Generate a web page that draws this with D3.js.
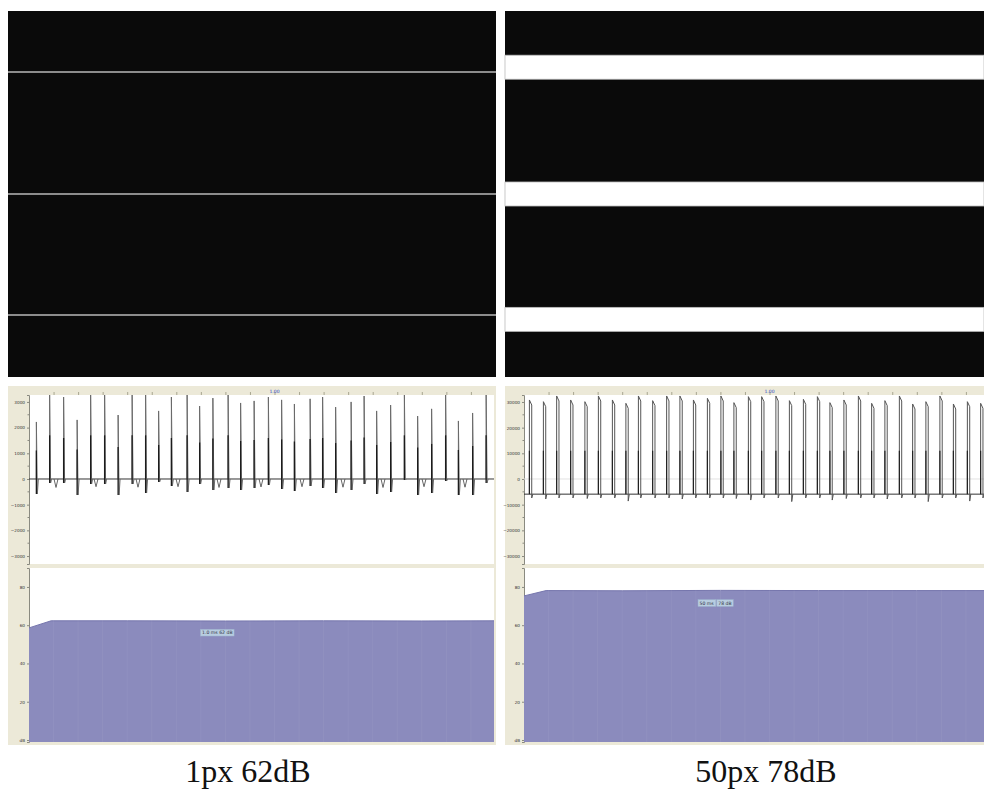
<!DOCTYPE html>
<html>
<head>
<meta charset="utf-8">
<script src="https://cdn.jsdelivr.net/npm/d3@7"></script>
<style>
  body { margin: 0; background: #fff; }
  svg { display: block; }
</style>
</head>
<body>
<div id="chart"></div>
<script>
// ---- data ----
// stimulus pictures (source pixels, 762 px tall)
const leftLines = [127, 381, 633];                       // 1px white lines
const rightGaps = [[92, 142], [356, 406], [617, 667]];   // 50px white bands

// left recording (time in s, amplitude)
const leftSpikeT = [0.030, 0.084, 0.141, 0.196, 0.251, 0.308, 0.363, 0.420, 0.475, 0.528,
  0.580, 0.644, 0.695, 0.749, 0.811, 0.862, 0.917, 0.975, 1.029, 1.081, 1.145, 1.196,
  1.249, 1.312, 1.365, 1.416, 1.473, 1.529, 1.583, 1.640, 1.697, 1.749, 1.807, 1.862];
const leftPeaks = [2220, 3400, 3190, 2300, 3400, 3400, 2490, 3400, 3400, 2650, 3190, 3400,
  2840, 3150, 3400, 2960, 3040, 3190, 3080, 2920, 3120, 3190, 2800, 3000, 3230, 2650,
  2880, 3400, 2450, 2730, 3400, 2260, 2570, 3400];
const leftTroughs = [-584, -156, -156, -623, -195, -195, -623, -195, -545, -117, -273, -506,
  -195, -429, -351, -429, -351, -234, -390, -468, -273, -351, -545, -429, -195, -584,
  -506, -39, -623, -545, -78, -623, -623, -156];
const leftVT = [0.110, 0.273, 0.444, 0.607, 0.774, 0.945, 1.112, 1.279, 1.442, 1.609, 1.776];
const leftVDepth = [-330, -300, -320, -300, -330, -310, -300, -320, -330, -300, -320];

// right recording
const rightSpikeT = [0.022, 0.079, 0.133, 0.190, 0.248, 0.303, 0.360, 0.415, 0.466, 0.524,
  0.581, 0.635, 0.690, 0.747, 0.802, 0.855, 0.914, 0.968, 1.026, 1.081, 1.138, 1.195,
  1.246, 1.303, 1.362, 1.416, 1.470, 1.529, 1.583, 1.637, 1.694, 1.749, 1.806, 1.860];
const rightPeaks = [30780, 30120, 32340, 30780, 30120, 32340, 30780, 29480, 32340, 30520,
  32340, 32340, 30780, 31430, 32340, 29740, 32080, 32080, 32340, 30520, 31040, 32080,
  29740, 30780, 32340, 29480, 30520, 32340, 29220, 30120, 32340, 29220, 30120, 29480];
const rightTroughs = [-7400, -7800, -7400, -7400, -7600, -7400, -7400, -8600, -7400, -7400,
  -7400, -7800, -7400, -7400, -7400, -7600, -8200, -7400, -7400, -8800, -7400, -7400,
  -8200, -7600, -7400, -7400, -7800, -7400, -7400, -8800, -7400, -7400, -8600, -7400];
const rightBase = -5900;

// level traces (dB)
const levelT = [0, 0.09, 0.4, 0.8, 1.2, 1.6, 1.9];
const leftDb = [58.6, 62.3, 62.3, 62.2, 62.3, 62.2, 62.3];
const rightDb = [75.3, 78.1, 78.0, 78.2, 78.1, 78.1, 78.1];

const timeTicks = d3.range(1, 19).map(d => d / 10);
const leftAmpTicks = [-3000, -2000, -1000, 0, 1000, 2000, 3000];
const rightAmpTicks = [-30000, -20000, -10000, 0, 10000, 20000, 30000];
const dbTicks = [20, 40, 60, 80];
const captions = ["1px 62dB", "50px 78dB"];
const leftTag = ["1.0 ms  62 dB"];
const rightTag = ["50 ms", "78 dB"];

// ---- drawing ----
const width = 984, height = 794;
const beige = "#ece9d8";

const svg = d3.select("#chart").append("svg")
  .attr("width", width)
  .attr("height", height);
const defs = svg.append("defs");

const stimY = d3.scaleLinear().domain([0, 762]).range([11, 377]);

// left stimulus
svg.append("rect").attr("x", 8).attr("y", stimY(0)).attr("width", 488)
  .attr("height", stimY(762) - stimY(0)).attr("fill", "#0a0a0a");
svg.selectAll(".lline").data(leftLines).enter().append("line")
  .attr("x1", 8).attr("x2", 496)
  .attr("y1", d => stimY(d)).attr("y2", d => stimY(d))
  .attr("stroke", "#b8b8b8").attr("stroke-width", 1.6);

// right stimulus
svg.append("rect").attr("x", 505).attr("y", stimY(0)).attr("width", 479)
  .attr("height", stimY(762) - stimY(0)).attr("fill", "#0a0a0a");
svg.selectAll(".rgap").data(rightGaps).enter().append("rect")
  .attr("x", 505).attr("width", 479)
  .attr("y", d => stimY(d[0])).attr("height", d => stimY(d[1]) - stimY(d[0]))
  .attr("fill", "#fff").attr("stroke", "#bbb").attr("stroke-width", 0.8);

function drawColumn(c) {
  const g = svg.append("g");
  // frame
  g.append("rect").attr("x", c.x0).attr("y", 386).attr("width", c.x1 - c.x0)
    .attr("height", 359).attr("fill", beige);

  const x = d3.scaleLinear().domain([0, (c.px1 - c.px0) / 245.5]).range([c.px0, c.px1]);
  const yW = d3.scaleLinear().domain(c.ampDomain).range([564, 395]);
  const yL = d3.scaleLinear().domain([-1.05, 89.9]).range([742, 568]);

  // plot backgrounds
  g.append("rect").attr("x", c.px0).attr("y", 395).attr("width", c.px1 - c.px0)
    .attr("height", 169).attr("fill", "#fff");
  g.append("rect").attr("x", c.px0).attr("y", 568).attr("width", c.px1 - c.px0)
    .attr("height", 174).attr("fill", "#fff");

  const clipW = "clipW" + c.id, clipL = "clipL" + c.id;
  defs.append("clipPath").attr("id", clipW).append("rect")
    .attr("x", c.px0).attr("y", 395).attr("width", c.px1 - c.px0).attr("height", 169);
  defs.append("clipPath").attr("id", clipL).append("rect")
    .attr("x", c.px0).attr("y", 568).attr("width", c.px1 - c.px0).attr("height", 174);

  // top time strip
  const ax = g.append("g").attr("transform", "translate(0,395)")
    .call(d3.axisTop(x).tickValues(timeTicks).tickSize(3).tickFormat(""));
  ax.select(".domain").remove();
  ax.selectAll("line").attr("stroke", "#a8a690");
  g.append("text").attr("x", x(1.0)).attr("y", 392.5).attr("text-anchor", "middle")
    .attr("font-family", "DejaVu Sans").attr("font-size", 4.5).attr("fill", "#2a3fc0")
    .text("1.00");

  // amplitude axis
  const ay = g.append("g").attr("transform", `translate(${c.px0},0)`)
    .call(d3.axisLeft(yW).tickValues(c.ampTicks).tickSize(2).tickPadding(2)
      .tickFormat(d3.format("d")));
  ay.select(".domain").attr("stroke", "#8a8a80");
  ay.selectAll("line").attr("stroke", "#8a8a80");
  ay.selectAll("text").attr("font-family", "DejaVu Sans").attr("font-size", 4.2).attr("fill", "#333");
  const minor = d3.pairs(c.ampTicks).map(p => (p[0] + p[1]) / 2);
  g.selectAll(".minor" + c.id).data(minor).enter().append("line")
    .attr("x1", c.px0 - 1.5).attr("x2", c.px0)
    .attr("y1", d => yW(d)).attr("y2", d => yW(d)).attr("stroke", "#8a8a80");

  const wave = g.append("g").attr("clip-path", `url(#${clipW})`);
  c.drawWave(wave, x, yW);

  // level axis
  const al = g.append("g").attr("transform", `translate(${c.px0},0)`)
    .call(d3.axisLeft(yL).tickValues([0].concat(dbTicks)).tickSize(2).tickPadding(2)
      .tickFormat(d => d === 0 ? "dB" : d));
  al.select(".domain").attr("stroke", "#8a8a80");
  al.selectAll("line").attr("stroke", "#8a8a80");
  al.selectAll("text").attr("font-family", "DejaVu Sans").attr("font-size", 4.2).attr("fill", "#333");

  const lvl = g.append("g").attr("clip-path", `url(#${clipL})`);
  const pts = levelT.map((t, i) => [t, c.db[i]]);
  lvl.append("path").datum(pts)
    .attr("d", d3.area().x(d => x(d[0])).y0(yL(-1.05)).y1(d => yL(d[1])))
    .attr("fill", "#8b8bbd");
  lvl.append("path").datum(pts)
    .attr("d", d3.line().x(d => x(d[0])).y(d => yL(d[1])))
    .attr("fill", "none").attr("stroke", "#7676ad").attr("stroke-width", 1);
  lvl.selectAll(".grid").data(timeTicks).enter().append("line")
    .attr("x1", d => x(d)).attr("x2", d => x(d)).attr("y1", 568).attr("y2", 742)
    .attr("stroke", "#fff").attr("stroke-opacity", 0.05);

  // value tag, one box per part
  let cx = x(c.tagT);
  const ty = yL(c.tagDb);
  c.tag.forEach(part => {
    const tg = g.append("g");
    const box = tg.append("rect");
    const tag = tg.append("text").attr("x", cx).attr("y", ty)
      .attr("font-family", "DejaVu Sans").attr("font-size", 4.6).attr("fill", "#334")
      .text(part);
    const bb = tag.node().getBBox();
    box.attr("x", bb.x - 1.5).attr("y", bb.y - 0.8)
      .attr("width", bb.width + 3).attr("height", bb.height + 1.6)
      .attr("fill", "#b8cde0").attr("stroke", "#9fb8d0").attr("stroke-width", 0.5);
    cx += bb.width + 4;
  });

  // caption
  svg.append("text").attr("x", c.capX).attr("y", 782).attr("text-anchor", "middle")
    .attr("font-family", "Liberation Serif").attr("font-size", 32).attr("fill", "#111")
    .text(c.caption);
}

drawColumn({
  id: "L", x0: 8, x1: 496, px0: 29, px1: 494,
  ampDomain: [-3310, 3270], ampTicks: leftAmpTicks, db: leftDb,
  tag: leftTag, tagT: 0.705, tagDb: 55.3, caption: captions[0], capX: 248,
  drawWave(g, x, y) {
    g.append("line").attr("x1", x.range()[0]).attr("x2", x.range()[1])
      .attr("y1", y(0)).attr("y2", y(0)).attr("stroke", "#333").attr("stroke-width", 1);
    const spike = d3.line().x(d => x(d[0])).y(d => y(d[1]));
    leftSpikeT.forEach((t, i) => {
      g.append("path")
        .attr("d", spike([[t, 0], [t, leftPeaks[i]], [t + 0.004, leftTroughs[i]], [t + 0.008, 0]]))
        .attr("fill", "none").attr("stroke", "#6a6a6a").attr("stroke-width", 1);
      g.append("path")
        .attr("d", spike([[t, leftTroughs[i]], [t, leftPeaks[i] * 0.5]]))
        .attr("fill", "none").attr("stroke", "#1c1c1c").attr("stroke-width", 1.3);
    });
    leftVT.forEach((t, i) => {
      g.append("path")
        .attr("d", spike([[t - 0.008, 0], [t, leftVDepth[i]], [t + 0.008, 0]]))
        .attr("fill", "none").attr("stroke", "#555").attr("stroke-width", 0.9);
    });
  }
});

drawColumn({
  id: "R", x0: 505, x1: 984, px0: 524, px1: 984,
  ampDomain: [-33110, 32720], ampTicks: rightAmpTicks, db: rightDb,
  tag: rightTag, tagT: 0.715, tagDb: 70.8, caption: captions[1], capX: 766,
  drawWave(g, x, y) {
    g.append("line").attr("x1", x.range()[0]).attr("x2", x.range()[1])
      .attr("y1", y(0)).attr("y2", y(0)).attr("stroke", "#e2e2e2").attr("stroke-width", 1);
    g.append("line").attr("x1", x.range()[0]).attr("x2", x.range()[1])
      .attr("y1", y(rightBase)).attr("y2", y(rightBase)).attr("stroke", "#333").attr("stroke-width", 1);
    const spike = d3.line().x(d => x(d[0])).y(d => y(d[1]));
    rightSpikeT.forEach((t, i) => {
      const p = rightPeaks[i];
      g.append("path")
        .attr("d", spike([[t, rightBase], [t, p], [t + 0.0095, p - 1950],
          [t + 0.0095, rightTroughs[i]], [t + 0.014, rightBase]]))
        .attr("fill", "none").attr("stroke", "#555").attr("stroke-width", 1);
      g.append("path")
        .attr("d", spike([[t, rightBase], [t, 11000]]))
        .attr("fill", "none").attr("stroke", "#222").attr("stroke-width", 1.2);
    });
  }
});
</script>
</body>
</html>
